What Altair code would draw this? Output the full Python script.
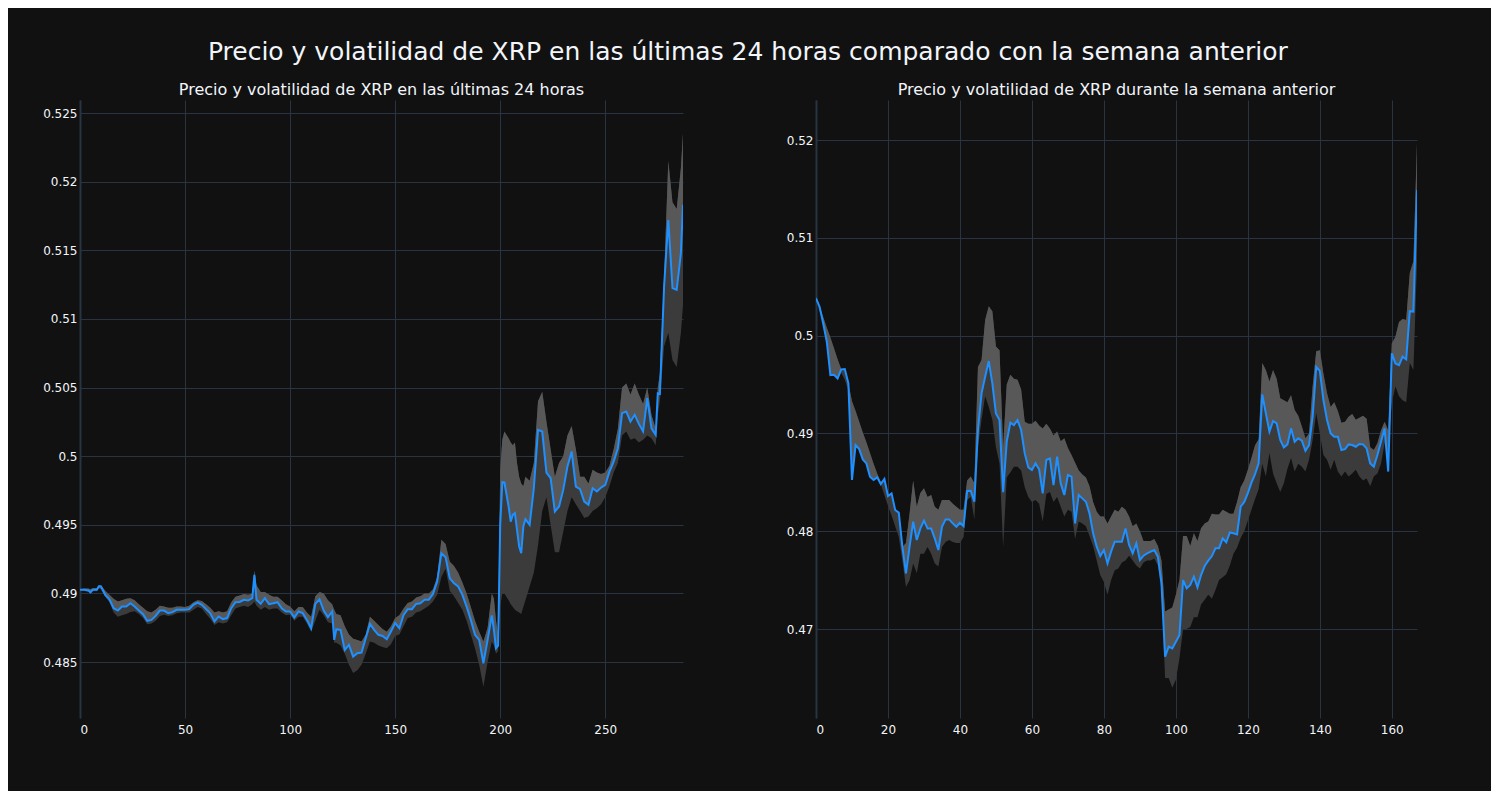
import altair as alt
import pandas as pd

TITLE = "Precio y volatilidad de XRP en las últimas 24 horas comparado con la semana anterior"
SUB_LEFT = "Precio y volatilidad de XRP en las últimas 24 horas"
SUB_RIGHT = "Precio y volatilidad de XRP durante la semana anterior"

# ---------- last 24 hours (5-minute steps) ----------
LEFT_X = [0, 2, 4, 5, 6, 8, 9, 10, 12, 14, 16, 18, 20, 22, 24, 26, 28, 30, 32, 34, 36, 38, 40, 42, 44, 46, 48, 50,
          52, 54, 56, 58, 60, 62, 64, 66, 68, 70, 72, 74, 76, 78, 80, 82, 83, 84, 86, 88, 90, 92, 94, 96, 98, 100,
          102, 104, 106, 108, 110, 112, 114, 116, 118, 120, 121, 122, 124, 126, 128, 130, 132, 134, 136, 138, 140,
          142, 144, 146, 148, 150, 152, 154, 156, 158, 160, 162, 164, 166, 168, 170, 172, 174, 176, 178, 180, 182,
          184, 186, 188, 190, 192, 194, 196, 197, 198, 199,
          200, 201, 202, 204, 205, 206, 207, 208, 209, 210, 211, 212, 214, 216, 218, 220, 222, 224, 226, 228, 230,
          232, 234, 236, 238, 240, 242, 244, 246, 248, 250, 252, 254, 256, 258, 260, 262, 264, 266, 268, 270, 272,
          274, 275, 276, 278, 280, 282, 284, 286, 287]
LEFT_PRICE = [0.49026, 0.49026, 0.49021, 0.49008, 0.49026, 0.49026, 0.49052, 0.4905, 0.48989, 0.48957, 0.48892,
              0.48875, 0.48904, 0.48904, 0.48928, 0.48904, 0.48875, 0.48848, 0.4880, 0.48807, 0.48836, 0.48875,
              0.48875, 0.48855, 0.48863, 0.4888, 0.4888, 0.4888, 0.48885, 0.48916, 0.48933, 0.48916, 0.48885,
              0.48855, 0.48795, 0.48831, 0.48812, 0.4882, 0.48892, 0.48936, 0.48938, 0.48953, 0.48948, 0.48965,
              0.49135, 0.48953, 0.48924, 0.48965, 0.48921, 0.48928, 0.48936, 0.48892, 0.48868, 0.48868,
              0.48824, 0.48868, 0.48856, 0.48807, 0.48746, 0.48923, 0.48957, 0.48875, 0.48826, 0.48868, 0.48661,
              0.48739, 0.48734, 0.48588, 0.48625, 0.4854, 0.48564, 0.48569, 0.48673, 0.48778, 0.48734, 0.48698,
              0.4869, 0.48666, 0.48722, 0.48783, 0.48746, 0.48843, 0.48885, 0.48885, 0.48923, 0.48928, 0.48953,
              0.48953, 0.48996, 0.49086, 0.49293, 0.49264, 0.4911, 0.49074, 0.4905, 0.48989, 0.48904, 0.48807,
              0.48698, 0.48661, 0.48491, 0.48661, 0.4884, 0.48734, 0.48601, 0.4862,
              0.4950, 0.4981, 0.49808, 0.49633, 0.49523, 0.49572, 0.49584, 0.49463, 0.49342, 0.49293, 0.49487,
              0.4954, 0.49499, 0.49766, 0.50191, 0.50179, 0.4988, 0.49839, 0.49596, 0.49633, 0.49754, 0.49924,
              0.50033, 0.49778, 0.49759, 0.49669, 0.49645, 0.49766, 0.49742, 0.49771, 0.4979, 0.49887, 0.4996,
              0.50058, 0.50313, 0.50325, 0.50252, 0.50301, 0.50235, 0.5018, 0.50422, 0.50203, 0.50155, 0.50458,
              0.50453, 0.51236, 0.51721, 0.51224, 0.51212, 0.51479, 0.51831]
LEFT_UPPER = [0.49030, 0.49035, 0.49035, 0.49030, 0.49038, 0.49040, 0.49060, 0.49058, 0.49020, 0.48990, 0.48960,
              0.48940, 0.48950, 0.48960, 0.48965, 0.48950, 0.48920, 0.48895, 0.48870, 0.48860, 0.48880, 0.48910,
              0.48905, 0.48895, 0.48895, 0.48905, 0.48905, 0.48900, 0.48910, 0.48935, 0.48950, 0.48945, 0.48920,
              0.48895, 0.48860, 0.48870, 0.48860, 0.48870, 0.48935, 0.48975, 0.48985, 0.48995, 0.48990, 0.49000,
              0.49165, 0.49060, 0.49010, 0.49010, 0.48990, 0.48975, 0.48975, 0.48950, 0.48920, 0.48905,
              0.48870, 0.48900, 0.48900, 0.48860, 0.48830, 0.48980, 0.49010, 0.49000, 0.48950, 0.48920, 0.48880,
              0.48850, 0.48840, 0.48760, 0.48700, 0.48670, 0.48660, 0.48650, 0.48700, 0.48830, 0.48800, 0.48770,
              0.48740, 0.48720, 0.48760, 0.48820, 0.48840, 0.48890, 0.48930, 0.48940, 0.48970, 0.48980, 0.49000,
              0.49000, 0.49030, 0.49120, 0.49390, 0.49360, 0.49230, 0.49200, 0.49150, 0.49080, 0.49000, 0.48900,
              0.48800, 0.48720, 0.48650, 0.48750, 0.49000, 0.48960, 0.48800, 0.48700,
              0.4990, 0.5012, 0.50180, 0.50130, 0.50100, 0.50080, 0.50100, 0.49950, 0.49850, 0.49800, 0.49780,
              0.49850, 0.49820, 0.49950, 0.50400, 0.50470, 0.50250, 0.50050, 0.49850, 0.49950, 0.50000, 0.50150,
              0.50220, 0.50050, 0.49850, 0.49850, 0.49800, 0.49900, 0.49880, 0.49870, 0.49880, 0.49930, 0.50050,
              0.50200, 0.50500, 0.50530, 0.50450, 0.50530, 0.50450, 0.50380, 0.50500, 0.50300, 0.50200, 0.50500,
              0.50600, 0.51300, 0.52150, 0.51850, 0.51800, 0.52100, 0.52350]
LEFT_LOWER = [0.49022, 0.49018, 0.49012, 0.49000, 0.49015, 0.49015, 0.49035, 0.49030, 0.48975, 0.48935, 0.48860,
              0.48830, 0.48840, 0.48850, 0.48865, 0.48870, 0.48850, 0.48820, 0.48775, 0.48780, 0.48800, 0.48835,
              0.48845, 0.48835, 0.48840, 0.48855, 0.48860, 0.48860, 0.48860, 0.48880, 0.48900, 0.48890, 0.48850,
              0.48815, 0.48770, 0.48790, 0.48780, 0.48790, 0.48840, 0.48890, 0.48900, 0.48910, 0.48900, 0.48920,
              0.48940, 0.48910, 0.48880, 0.48900, 0.48880, 0.48890, 0.48890, 0.48860, 0.48840, 0.48845,
              0.48800, 0.48830, 0.48830, 0.48780, 0.48720, 0.48800, 0.48880, 0.48840, 0.48790, 0.48780, 0.48640,
              0.48640, 0.48620, 0.48560, 0.48480, 0.48420, 0.48440, 0.48480, 0.48560, 0.48650, 0.48640, 0.48620,
              0.48610, 0.48600, 0.48630, 0.48690, 0.48700, 0.48760, 0.48820, 0.48830, 0.48860, 0.48870, 0.48890,
              0.48910, 0.48940, 0.48990, 0.49120, 0.49180, 0.49020, 0.48980, 0.48930, 0.48880, 0.48800, 0.48700,
              0.48600, 0.48480, 0.48320, 0.48500, 0.48650, 0.48620, 0.48560, 0.48580,
              0.4890, 0.4900, 0.49000, 0.48950, 0.48920, 0.48900, 0.48880, 0.48870, 0.48860, 0.48850, 0.48900,
              0.48950, 0.49050, 0.49150, 0.49350, 0.49600, 0.49700, 0.49500, 0.49300, 0.49300, 0.49450, 0.49600,
              0.49700, 0.49650, 0.49600, 0.49550, 0.49560, 0.49600, 0.49620, 0.49650, 0.49700, 0.49780, 0.49880,
              0.49950, 0.50150, 0.50180, 0.50120, 0.50130, 0.50100, 0.50120, 0.50150, 0.50130, 0.50080, 0.50300,
              0.50400, 0.50800, 0.50900, 0.50700, 0.50650, 0.50900, 0.51100]

# ---------- previous week (hourly steps) ----------
RIGHT_X = list(range(168))
RIGHT_PRICE = [0.50381, 0.50296, 0.50125, 0.49938, 0.49597, 0.4960, 0.49563, 0.49655, 0.49658, 0.49512,
               0.48524, 0.48881, 0.4884, 0.48735, 0.48694, 0.48558, 0.48524, 0.48551, 0.48483, 0.48534,
               0.4836, 0.48387, 0.48217, 0.4819, 0.47842, 0.47569, 0.47842, 0.48097, 0.4791, 0.48029,
               0.48108, 0.48029, 0.48029, 0.47927, 0.47808, 0.48046, 0.48121, 0.48121, 0.4808, 0.48046,
               0.48087, 0.48053, 0.48411, 0.48414, 0.48302, 0.49035, 0.4941, 0.4958, 0.4974, 0.49512,
               0.49205, 0.49137, 0.4840, 0.48916, 0.4911, 0.49086, 0.49137, 0.49035, 0.48796, 0.48653,
               0.48626, 0.48694, 0.48633, 0.48387, 0.48728, 0.48745, 0.48472, 0.48762, 0.48489, 0.4837,
               0.48575, 0.48558, 0.4808, 0.4837, 0.48336, 0.48302, 0.48183, 0.47978, 0.47842, 0.47746,
               0.47808, 0.47671, 0.47791, 0.47893, 0.47893, 0.47893, 0.48029, 0.47859, 0.47774, 0.47876,
               0.47706, 0.4775, 0.47774, 0.47791, 0.47808, 0.4774, 0.47467, 0.46717, 0.46819, 0.46802,
               0.4687, 0.46939, 0.47501, 0.47416, 0.4745, 0.47535, 0.47426, 0.47552, 0.47644, 0.47699,
               0.47746, 0.47826, 0.47826, 0.47927, 0.47887, 0.47988, 0.4798, 0.47968, 0.48251, 0.4830,
               0.4839, 0.48496, 0.48585, 0.48694, 0.4940, 0.49205, 0.49018, 0.49127, 0.49103, 0.48933,
               0.48858, 0.48888, 0.49052, 0.48915, 0.4895, 0.48926, 0.48823, 0.48881, 0.49171, 0.4968,
               0.4964, 0.49341, 0.49137, 0.49001, 0.48967, 0.48967, 0.4883, 0.4884, 0.48888, 0.48881,
               0.48864, 0.48892, 0.48888, 0.48847, 0.48694, 0.4866, 0.48779, 0.48915, 0.49052, 0.4861,
               0.49819, 0.49716, 0.49699, 0.49785, 0.49757, 0.5025, 0.50245, 0.51489]
RIGHT_UPPER = [0.5040, 0.5030, 0.5019, 0.5008, 0.4998, 0.4987, 0.4976, 0.4966, 0.4966, 0.4951,
               0.4933, 0.4923, 0.4912, 0.4901, 0.4891, 0.4880, 0.4869, 0.4859, 0.4850, 0.4853,
               0.4836, 0.4839, 0.4822, 0.4819, 0.4784, 0.4788, 0.4818, 0.4852, 0.4825, 0.4839,
               0.4844, 0.4835, 0.4837, 0.4825, 0.4822, 0.4832, 0.4832, 0.4832, 0.4828, 0.4825,
               0.4822, 0.4822, 0.4852, 0.4856, 0.4849, 0.4968, 0.4975, 0.5016, 0.5030, 0.5025,
               0.4989, 0.4985, 0.4886, 0.4950, 0.4960, 0.4956, 0.4955, 0.4945, 0.4912, 0.4910,
               0.4910, 0.4913, 0.4908, 0.4905, 0.4910, 0.4905, 0.4898, 0.4902, 0.4892, 0.4895,
               0.4885, 0.4878, 0.4870, 0.4862, 0.4858, 0.4855, 0.4846, 0.4830, 0.4820, 0.4815,
               0.4815, 0.4808, 0.4815, 0.4822, 0.4820, 0.4825, 0.4822, 0.4815, 0.4805, 0.4808,
               0.4800, 0.4790, 0.4790, 0.4790, 0.4792, 0.4785, 0.4770, 0.4718, 0.4720, 0.4722,
               0.4735, 0.4750, 0.4795, 0.4795, 0.4785, 0.4798, 0.4790, 0.4803, 0.4808, 0.4810,
               0.4818, 0.4817, 0.4817, 0.4822, 0.4820, 0.4818, 0.4818, 0.4830, 0.4845, 0.4852,
               0.4863, 0.4875, 0.4888, 0.4894, 0.4972, 0.4965, 0.4953, 0.4965, 0.4956, 0.4936,
               0.4934, 0.4932, 0.4939, 0.4924, 0.4918, 0.4907, 0.4895, 0.4900, 0.4948, 0.4984,
               0.4985, 0.4961, 0.4941, 0.4927, 0.4932, 0.4923, 0.4911, 0.4912, 0.4917, 0.4920,
               0.4914, 0.4916, 0.4918, 0.4915, 0.4886, 0.4883, 0.4890, 0.4903, 0.4912, 0.4903,
               0.4992, 0.4999, 0.5014, 0.5017, 0.5016, 0.5064, 0.5076, 0.5197]
RIGHT_LOWER = [0.5036, 0.5025, 0.5012, 0.4994, 0.4960, 0.4960, 0.4956, 0.4962, 0.4955, 0.4944,
               0.4852, 0.4888, 0.4884, 0.4873, 0.4869, 0.4856, 0.4852, 0.4855, 0.4848, 0.4837,
               0.4826, 0.4816, 0.4805, 0.4794, 0.4770, 0.4743, 0.4750, 0.4767, 0.4757, 0.4777,
               0.4777, 0.4784, 0.4777, 0.4767, 0.4764, 0.4784, 0.4789, 0.4791, 0.4789, 0.4788,
               0.4788, 0.4794, 0.4832, 0.4835, 0.4812, 0.4886, 0.4914, 0.4938, 0.4927, 0.4914,
               0.4886, 0.4869, 0.4784, 0.4855, 0.4860, 0.4866, 0.4866, 0.4862, 0.4845, 0.4835,
               0.4830, 0.4832, 0.4828, 0.4810, 0.4838, 0.4840, 0.4830, 0.4835, 0.4825, 0.4815,
               0.4822, 0.4820, 0.4792, 0.4810, 0.4808, 0.4805, 0.4795, 0.4785, 0.4770, 0.4755,
               0.4748, 0.4735, 0.4750, 0.4760, 0.4762, 0.4768, 0.4770, 0.4775, 0.4770, 0.4765,
               0.4762, 0.4768, 0.4770, 0.4770, 0.4772, 0.4765, 0.4740, 0.4650, 0.4650, 0.4640,
               0.4648, 0.4670, 0.4700, 0.4700, 0.4702, 0.4712, 0.4712, 0.4725, 0.4730, 0.4735,
               0.4731, 0.4740, 0.4750, 0.4753, 0.4756, 0.4765, 0.4777, 0.4783, 0.4793, 0.4800,
               0.4811, 0.4822, 0.4833, 0.4843, 0.4869, 0.4856, 0.4880, 0.4859, 0.4849, 0.4840,
               0.4849, 0.4864, 0.4875, 0.4861, 0.4869, 0.4866, 0.4861, 0.4873, 0.4893, 0.4921,
               0.4900, 0.4878, 0.4873, 0.4863, 0.4873, 0.4861, 0.4856, 0.4861, 0.4856, 0.4859,
               0.4863, 0.4856, 0.4852, 0.4854, 0.4846, 0.4856, 0.4859, 0.4869, 0.4890, 0.4883,
               0.4931, 0.4948, 0.4938, 0.4934, 0.4932, 0.4972, 0.4965, 0.5074]

LEFT_YTICKS = [0.485, 0.49, 0.495, 0.5, 0.505, 0.51, 0.515, 0.52, 0.525]
RIGHT_YTICKS = [0.47, 0.48, 0.49, 0.5, 0.51, 0.52]
LEFT_XTICKS = [0, 50, 100, 150, 200, 250]
RIGHT_XTICKS = [0, 20, 40, 60, 80, 100, 120, 140, 160]

FONT = "DejaVu Sans"
TXT = "#f2f5fa"
GRID = "#283442"
LINE = "#1E90FF"
BAND_DARK = "#3b3b3b"
BAND_LIGHT = "#585858"


def panel(x, price, upper, lower, xdom, ydom, xticks, yticks, subtitle, w, h):
    df = pd.DataFrame({"x": x, "price": price, "upper": upper, "lower": lower})
    xenc = alt.X("x:Q", scale=alt.Scale(domain=xdom, nice=False, zero=False),
                 axis=alt.Axis(values=xticks, title=None, grid=True, gridColor=GRID, domain=False,
                               ticks=False, labelPadding=6, labelColor=TXT, labelFontSize=12,
                               labelFont=FONT))
    yaxis = alt.Axis(values=yticks, format="~g", title=None, grid=True, gridColor=GRID, domain=True,
                     domainColor=GRID, domainWidth=2, ticks=False, labelPadding=3, labelColor=TXT,
                     labelFontSize=12, labelFont=FONT)
    yscale = alt.Scale(domain=ydom, nice=False, zero=False)
    base = alt.Chart(df)
    dark = base.mark_area(color=BAND_DARK, clip=True).encode(
        x=xenc, y=alt.Y("lower:Q", scale=yscale, axis=yaxis), y2="upper:Q")
    light = base.mark_area(color=BAND_LIGHT, clip=True).encode(
        x="x:Q", y="price:Q", y2="upper:Q")
    line = base.mark_line(color=LINE, strokeWidth=2, clip=True).encode(x="x:Q", y="price:Q")
    return alt.layer(dark, light, line).properties(
        width=w, height=h,
        title=alt.TitleParams(subtitle, fontSize=16, font=FONT, color=TXT,
                              fontWeight="normal", anchor="middle", offset=2))


left = panel(LEFT_X, LEFT_PRICE, LEFT_UPPER, LEFT_LOWER, [0, 287], [0.48092, 0.52595],
             LEFT_XTICKS, LEFT_YTICKS, SUB_LEFT, 603, 618)
right = panel(RIGHT_X, RIGHT_PRICE, RIGHT_UPPER, RIGHT_LOWER, [0, 167], [0.4609, 0.5241],
              RIGHT_XTICKS, RIGHT_YTICKS, SUB_RIGHT, 601, 618)

chart = alt.hconcat(left, right, spacing=103).properties(
    title=alt.TitleParams(TITLE, fontSize=25, font=FONT, color=TXT, fontWeight="normal",
                          anchor="middle", offset=17, dx=18)
).configure(
    background="#111111",
    padding={"left": 34, "top": 32, "right": 74, "bottom": 56},
).configure_view(stroke=None)

chart.save("out.html", embed_options={"renderer": "svg", "actions": False})
